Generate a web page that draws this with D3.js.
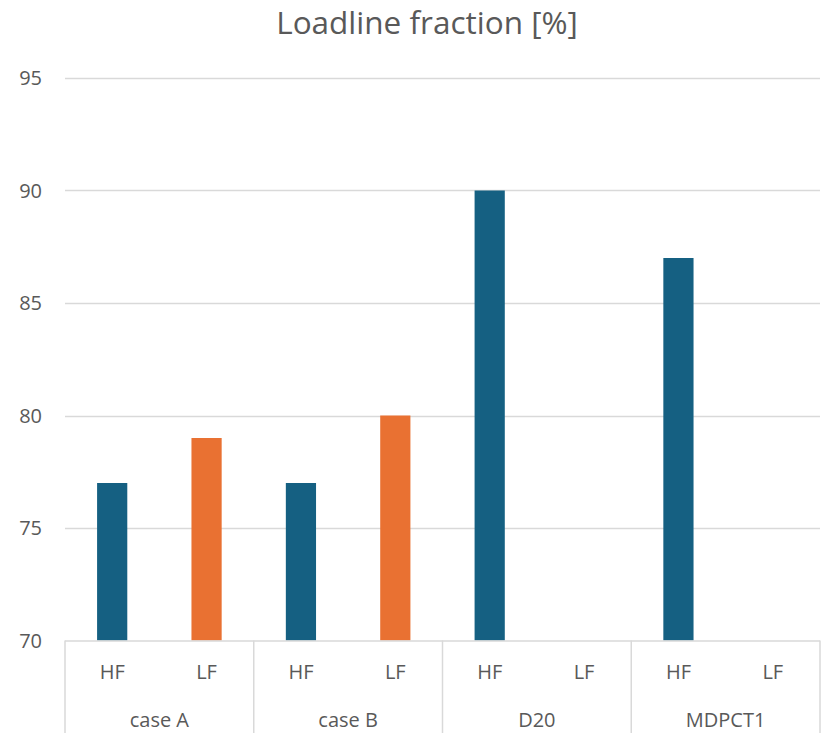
<!DOCTYPE html>
<html>
<head>
<meta charset="utf-8">
<script src="https://cdn.jsdelivr.net/npm/d3@7"></script>
<style>
  html, body { margin: 0; padding: 0; background: #fff; }
  svg { display: block; font-family: "Open Sans", Lato, sans-serif; }
</style>
</head>
<body>
<svg id="chart" width="823" height="733"></svg>
<script>
// Chart data
const groups = ["case A", "case B", "D20", "MDPCT1"];
const series = ["HF", "LF"];
const hfValues = [77, 77, 90, 87];
const lfValues = [79, 80, null, null];
const yTicks = [70, 75, 80, 85, 90, 95];
const title = "Loadline fraction [%]";

const colors = { HF: "#156082", LF: "#E97132" };
const textColor = "#595959";
const gridColor = "#D9D9D9";

const svg = d3.select("#chart");
const plotLeft = 65, plotRight = 820, plotTop = 78, plotBottom = 640.5;

const y = d3.scaleLinear().domain([70, 95]).range([plotBottom, plotTop]);
const x0 = d3.scaleBand().domain(groups).range([plotLeft, plotRight]).padding(0);
const x1 = d3.scaleBand().domain(series).range([0, x0.bandwidth()]).padding(0);
const barW = x1.bandwidth() * 0.32;

// Title
svg.append("text")
  .attr("x", 427).attr("y", 34)
  .attr("text-anchor", "middle")
  .attr("fill", textColor)
  .attr("font-size", 31.5)
  .text(title);

// Gridlines
svg.append("g").selectAll("line")
  .data(yTicks.filter(d => d > 70))
  .join("line")
  .attr("x1", plotLeft).attr("x2", plotRight)
  .attr("y1", d => Math.round(y(d)) + 0.5).attr("y2", d => Math.round(y(d)) + 0.5)
  .attr("stroke", gridColor).attr("stroke-width", 1.5);

// Y tick labels
svg.append("g").selectAll("text")
  .data(yTicks)
  .join("text")
  .attr("x", 42).attr("y", d => y(d))
  .attr("dy", "0.36em")
  .attr("text-anchor", "end")
  .attr("fill", textColor)
  .attr("font-size", 20)
  .text(d => d);

// Bars
const rows = [];
groups.forEach((g, i) => {
  rows.push({ group: g, s: "HF", v: hfValues[i] });
  rows.push({ group: g, s: "LF", v: lfValues[i] });
});
svg.append("g").selectAll("rect")
  .data(rows.filter(d => d.v != null))
  .join("rect")
  .attr("x", d => x0(d.group) + x1(d.s) + (x1.bandwidth() - barW) / 2)
  .attr("width", barW)
  .attr("y", d => y(d.v))
  .attr("height", d => y(70) - y(d.v))
  .attr("fill", d => colors[d.s]);

// Category axis (two levels)
const axis = svg.append("g");
axis.append("line")
  .attr("x1", plotLeft).attr("x2", plotRight)
  .attr("y1", plotBottom + 0.5).attr("y2", plotBottom + 0.5)
  .attr("stroke", gridColor).attr("stroke-width", 1.5);

const bounds = groups.map(g => x0(g)).concat([plotRight]);
axis.selectAll("line.sep")
  .data(bounds)
  .join("line")
  .attr("class", "sep")
  .attr("x1", d => d).attr("x2", d => d)
  .attr("y1", plotBottom).attr("y2", 733)
  .attr("stroke", gridColor).attr("stroke-width", 1.5);

axis.selectAll("text.sub")
  .data(rows)
  .join("text")
  .attr("class", "sub")
  .attr("x", d => x0(d.group) + x1(d.s) + x1.bandwidth() / 2)
  .attr("y", 679)
  .attr("text-anchor", "middle")
  .attr("fill", textColor)
  .attr("font-size", 20)
  .text(d => d.s);

axis.selectAll("text.grp")
  .data(groups)
  .join("text")
  .attr("class", "grp")
  .attr("x", d => x0(d) + x0.bandwidth() / 2)
  .attr("y", 727)
  .attr("text-anchor", "middle")
  .attr("fill", textColor)
  .attr("font-size", 20)
  .text(d => d);
</script>
</body>
</html>
